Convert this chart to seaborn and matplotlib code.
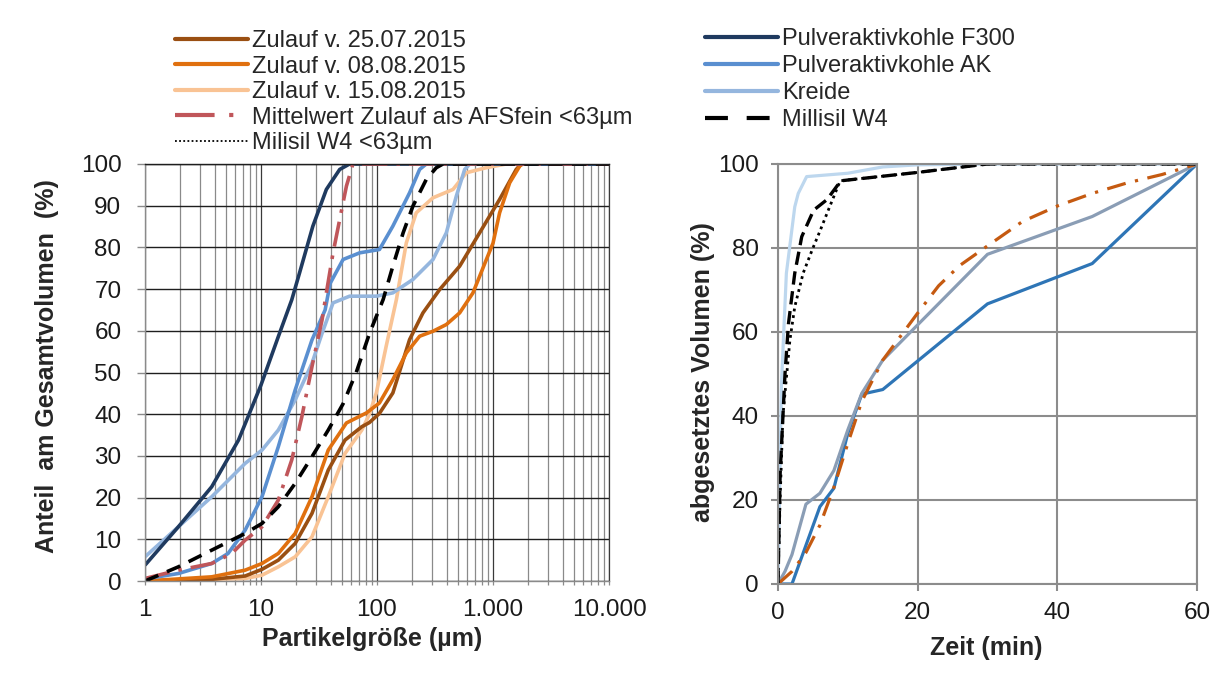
import matplotlib
matplotlib.use("Agg")
import matplotlib.pyplot as plt
from matplotlib.lines import Line2D
from matplotlib.ticker import LogLocator, NullFormatter
import seaborn as sns
import numpy as np

# ---------------- data: left chart (particle size distribution) ----------------
f300_x = [1, 1.94, 3.76, 6.4, 10, 14.1, 18.4, 21.5, 28, 36.6, 47.7, 58, 10000]
f300_y = [3.8, 13, 22.6, 33.8, 47, 58.6, 67.4, 73.9, 85.1, 93.9, 98.7, 100, 100]

ak_x = [1, 1.94, 3.76, 5.2, 7.3, 10.2, 14.1, 19.7, 27.5, 35.7, 39.5, 51, 71, 105, 137, 191, 233, 266, 10000]
ak_y = [0.5, 1.8, 4.2, 6.6, 12.2, 20.2, 32.2, 45.8, 57.8, 65, 71.4, 77.1, 78.7, 79.5, 85.1, 93.1, 98.7, 100, 100]

kreide_x = [1, 1.94, 3.76, 7.3, 10.2, 14.1, 19.7, 27.5, 33.6, 41.8, 58, 98.7, 137, 204, 304, 396, 483, 570, 631, 10000]
kreide_y = [5.8, 13, 20.2, 28.2, 31.4, 36.2, 43.4, 52.2, 59.4, 66.7, 68.3, 68.3, 69.1, 72.3, 77.1, 83.5, 92.3, 98.7, 100, 100]

afs_x = [1, 1.94, 3.76, 5.6, 7.3, 10.2, 14.1, 18.4, 22.5, 27.5, 33.6, 36.6, 41.8, 47.7, 54.5, 62, 10000]
afs_y = [0.6, 2.6, 4.2, 6.6, 9.8, 13, 19.4, 29, 39.4, 51.4, 62.6, 69.1, 78.7, 86.7, 94.7, 100, 100]

w4_x = [1, 1.94, 3.76, 7.3, 10.2, 14.1, 19.7, 27.5, 38, 51, 66, 86.5, 113, 137, 168, 204, 266, 324, 370, 10000]
w4_y = [0, 3.4, 7.4, 11.4, 13.8, 17.8, 23.4, 29.8, 36.2, 42.5, 49.9, 59.5, 67.5, 75.5, 83.5, 89.9, 96.3, 99.1, 100, 100]

z2507_x = [1, 3.76, 7.3, 10.2, 14.1, 19.7, 27.5, 38, 53, 74, 86, 105, 137, 191, 249, 347, 516, 767, 1140, 1585, 1750, 10000]
z2507_y = [0, 0.4, 1.2, 2.8, 5, 9, 16.2, 26.6, 33.8, 37, 38, 40.2, 45.1, 57.9, 64.3, 69.9, 75.5, 83.5, 91.5, 98.7, 100, 100]

z0808_x = [1, 3.76, 7.3, 10.2, 14.1, 19.7, 27.5, 38, 54.5, 81, 105, 137, 179, 233, 304, 396, 516, 672, 877, 1000, 1140, 1393, 1700, 1800, 10000]
z0808_y = [0, 1, 2.6, 4.2, 6.6, 11.4, 20.2, 31.4, 37.9, 40.3, 42.7, 48.3, 54.7, 58.7, 59.9, 61.5, 64.3, 69.1, 77.1, 81, 88.3, 95.5, 99.5, 100, 100]

z1508_x = [1, 7.3, 10.2, 14.1, 19.7, 27.5, 38, 53, 74, 86, 98.7, 120, 147, 179, 218, 304, 452, 589, 870, 1300, 10000]
z1508_y = [0, 0.6, 1.4, 3.4, 5.8, 10.6, 20.2, 30.6, 36.2, 40, 45.1, 56.3, 67.5, 81.1, 88.3, 91.9, 93.9, 97.9, 99.1, 100, 100]

size_ticks = [1, 10, 100, 1000, 10000]
size_tick_labels = ["1", "10", "100", "1.000", "10.000"]
pct_ticks_left = list(range(0, 101, 10))

# ---------------- data: right chart (settling) ----------------
t_blue = [0, 2, 6, 8, 10, 12, 15, 30, 45, 60]
v_blue = [0, 0, 18.4, 22.8, 35.9, 45.2, 46.3, 66.7, 76.3, 100]

t_grey = [0, 1, 2, 4, 6, 8, 10, 12, 15, 30, 45, 60]
v_grey = [0, 3, 7, 19, 21.6, 27, 36.7, 45.4, 53.3, 78.5, 87.5, 100]

t_orange = [0, 2, 4, 6, 8, 10, 12, 15, 20, 23, 26, 30, 35, 40, 45, 50, 55, 60]
v_orange = [0, 3, 7.5, 14, 23, 33.5, 43.5, 53.3, 64.5, 71, 75.8, 80.5, 86.3, 90, 93, 95.5, 97.5, 100]

t_light = [0, 0.5, 1.2, 2.4, 2.9, 4.1, 10, 15, 20, 30, 60]
v_light = [0, 48, 74, 89.8, 93, 97, 97.8, 99.3, 99.8, 100, 100]

t_dash = [0, 0.3, 1, 1.5, 2.4, 3.4, 5.1, 7, 9, 20, 30, 60]
v_dash = [0, 26, 50, 62, 74, 82.7, 89, 91.5, 96, 98, 100, 100]

t_dot = [0, 0.3, 0.7, 1.7, 2.4, 3.6, 5, 6, 7.2, 8.9, 20, 30, 60]
v_dot = [0, 20, 40, 58, 66, 74, 80, 84, 89, 96, 98, 100, 100]

time_ticks = [0, 20, 40, 60]
pct_ticks_right = list(range(0, 101, 20))

legend_left_labels = ["Zulauf v. 25.07.2015", "Zulauf v. 08.08.2015", "Zulauf v. 15.08.2015",
                      "Mittelwert Zulauf als AFSfein <63µm", "Milisil W4 <63µm"]
legend_right_labels = ["Pulveraktivkohle F300", "Pulveraktivkohle AK", "Kreide", "Millisil W4"]

# ---------------- style ----------------
sns.set_theme(style="white")
plt.rcParams["font.family"] = ["Liberation Sans", "DejaVu Sans"]
plt.rcParams["text.color"] = "#1a1a1a"

C_NAVY = "#1f3a5f"
C_AK = "#5a8fd0"
C_KREIDE = "#95b6de"
C_BROWN = "#9a4f12"
C_ORANGE = "#e0700f"
C_PEACH = "#f9c394"
C_RED = "#c0565a"

fig = plt.figure(figsize=(12.2, 6.77), dpi=100)
ax1 = fig.add_axes([145 / 1220, 1 - 581 / 677, 464 / 1220, 417 / 677])
ax2 = fig.add_axes([778 / 1220, 1 - 584 / 677, 419 / 1220, 420 / 677])


def draw(ax, x, y, color, lw, ls=None, z=2):
    sns.lineplot(x=x, y=y, ax=ax, color=color, linewidth=lw, sort=False,
                 estimator=None, zorder=z)
    line = ax.lines[-1]
    if ls is not None:
        line.set_linestyle(ls)
    line.set_solid_capstyle("butt")
    line.set_dash_capstyle("butt")
    line.set_solid_joinstyle("round")
    return line


# ---------------- left chart ----------------
ax1.set_xscale("log")
draw(ax1, z1508_x, z1508_y, C_PEACH, 2.6)
draw(ax1, z2507_x, z2507_y, C_BROWN, 2.6)
draw(ax1, z0808_x, z0808_y, C_ORANGE, 2.6)
draw(ax1, kreide_x, kreide_y, C_KREIDE, 2.6)
draw(ax1, ak_x, ak_y, C_AK, 2.6)
draw(ax1, f300_x, f300_y, C_NAVY, 2.6)
draw(ax1, afs_x, afs_y, C_RED, 2.6, (0, (7, 2.5, 1, 2.5)))
draw(ax1, w4_x, w4_y, "black", 2.6, (0, (4, 2.6)))

ax1.set_xlim(1, 10000)
ax1.set_ylim(0, 100)
ax1.set_xticks(size_ticks)
ax1.set_xticklabels(size_tick_labels)
ax1.xaxis.set_minor_locator(LogLocator(base=10, subs=np.arange(2, 10), numticks=20))
ax1.xaxis.set_minor_formatter(NullFormatter())
ax1.set_yticks(pct_ticks_left)
ax1.grid(True, which="major", axis="x", color="#3a3a3a", linewidth=0.9, zorder=0)
ax1.grid(True, which="minor", axis="x", color="#8a8a8a", linewidth=0.9, zorder=0)
ax1.grid(True, which="major", axis="y", color="#1e1e1e", linewidth=1.0, zorder=0)
ax1.set_axisbelow(True)
ax1.spines["top"].set_color("#1e1e1e")
ax1.spines["top"].set_linewidth(1.0)
ax1.spines["right"].set_color("#3a3a3a")
ax1.spines["right"].set_linewidth(0.9)
ax1.spines["left"].set_color("#8a8a8a")
ax1.spines["bottom"].set_color("#8a8a8a")
ax1.spines["left"].set_linewidth(1.0)
ax1.spines["bottom"].set_linewidth(1.0)
ax1.tick_params(axis="y", which="major", direction="out", length=6, width=1,
                color="#8a8a8a", pad=11, labelsize=17.5, labelcolor="#1a1a1a", left=True)
ax1.tick_params(axis="x", which="both", direction="out", length=3, width=0.9,
                color="#8a8a8a", pad=10, labelsize=17.5, labelcolor="#1a1a1a", bottom=True)
ax1.set_xlabel("Partikelgröße (µm)", fontsize=18, fontweight="bold")
ax1.set_ylabel("Anteil  am Gesamtvolumen  (%)", fontsize=18, fontweight="bold")
ax1.xaxis.set_label_coords(0.49, -0.11)
ax1.yaxis.set_label_coords(-0.186, 0.516)

# ---------------- right chart ----------------
draw(ax2, t_blue, v_blue, "#2e75b6", 2.3)
draw(ax2, t_grey, v_grey, "#8a9db5", 2.3)
draw(ax2, t_orange, v_orange, "#c55a11", 2.3, (0, (6, 3, 1, 3)))
draw(ax2, t_light, v_light, "#bdd7ee", 2.3)
draw(ax2, t_dot, v_dot, "black", 2.0, (0, (1, 1.4)))
draw(ax2, t_dash, v_dash, "black", 2.4, (0, (4, 2)))

ax2.set_xlim(0, 60)
ax2.set_ylim(0, 100)
ax2.set_xticks(time_ticks)
ax2.set_yticks(pct_ticks_right)
ax2.grid(True, color="#8c8c8c", linewidth=1.5, zorder=0)
ax2.set_axisbelow(True)
for s in ax2.spines.values():
    s.set_color("#8c8c8c")
    s.set_linewidth(1.5)
ax2.tick_params(axis="both", direction="out", length=5, width=1.5, color="#8c8c8c",
                labelsize=17.5, labelcolor="#1a1a1a", left=True, bottom=True)
ax2.tick_params(axis="y", pad=9)
ax2.tick_params(axis="x", pad=8)
ax2.set_xlabel("Zeit (min)", fontsize=18, fontweight="bold")
ax2.set_ylabel("abgesetztes Volumen (%)", fontsize=18, fontweight="bold")
ax2.xaxis.set_label_coords(0.498, -0.125)
ax2.yaxis.set_label_coords(-0.150, 0.505)

# ---------------- legends ----------------
h_left = [
    Line2D([], [], color=C_BROWN, lw=3),
    Line2D([], [], color=C_ORANGE, lw=3),
    Line2D([], [], color=C_PEACH, lw=3),
    Line2D([], [], color=C_RED, lw=3, linestyle=(0, (9.5, 3.5, 1, 20))),
    Line2D([], [], color="black", lw=1.3, linestyle=(0, (1, 1.3))),
]
h_right = [
    Line2D([], [], color=C_NAVY, lw=3),
    Line2D([], [], color=C_AK, lw=3),
    Line2D([], [], color=C_KREIDE, lw=3),
    Line2D([], [], color="black", lw=3, linestyle=(0, (5.5, 4.5))),
]
common = dict(frameon=False, fontsize=17, borderpad=0, borderaxespad=0,
              handletextpad=0.18, handlelength=3.1, loc="upper left")
leg1 = fig.legend(h_left, legend_left_labels, bbox_to_anchor=(175 / 1220, 1 - 30 / 677),
                  labelspacing=0.15, **common)
leg2 = fig.legend(h_right, legend_right_labels, bbox_to_anchor=(705 / 1220, 1 - 28 / 677),
                  labelspacing=0.21, **common)
for lg in (leg1, leg2):
    for t in lg.get_texts():
        t.set_color("#262626")

fig.savefig("out.png", dpi=100, facecolor="white")
